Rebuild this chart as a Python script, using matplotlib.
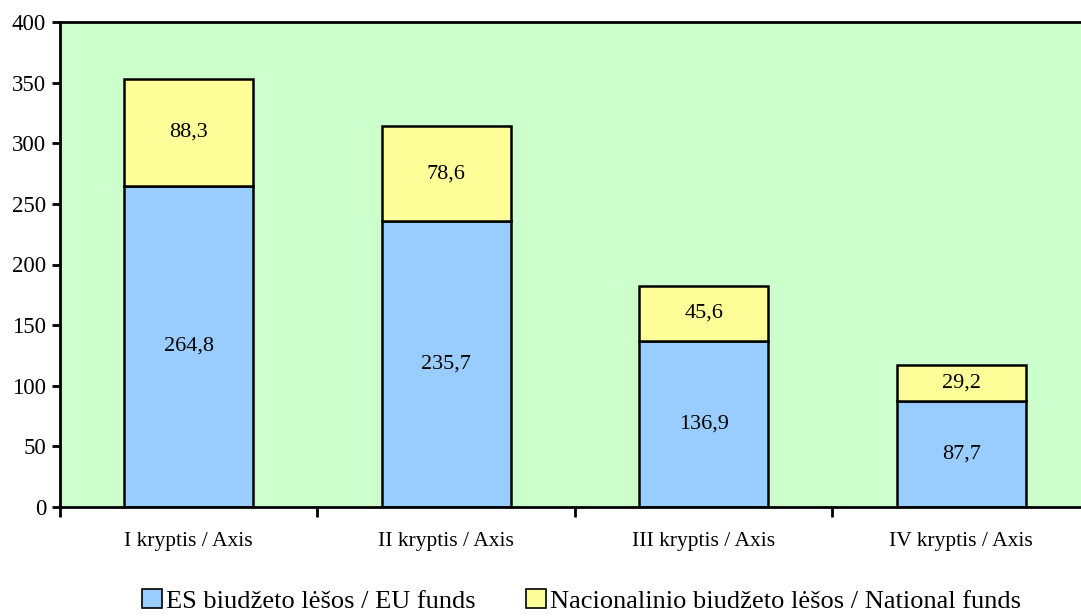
import matplotlib
matplotlib.use('Agg')
import matplotlib.pyplot as plt
from matplotlib.patches import Patch

categories = ['I kryptis / Axis', 'II kryptis / Axis', 'III kryptis / Axis', 'IV kryptis / Axis']
eu_funds = [264.8, 235.7, 136.9, 87.7]
national_funds = [88.3, 78.6, 45.6, 29.2]
yticks = [0, 50, 100, 150, 200, 250, 300, 350, 400]

plt.rcParams['font.family'] = ['Liberation Serif', 'DejaVu Serif']

fig = plt.figure(figsize=(10.81, 6.16), dpi=100)
ax = fig.add_axes([60 / 1081, 1 - 507 / 616, 1030 / 1081, 485 / 616])
ax.set_facecolor('#CCFFCC')

x = list(range(len(categories)))
ax.bar(x, eu_funds, width=0.5, color='#99CCFF', edgecolor='black', linewidth=1.8)
ax.bar(x, national_funds, width=0.5, bottom=eu_funds, color='#FFFF99',
       edgecolor='black', linewidth=1.8)

def fmt(v):
    return f'{v:.1f}'.replace('.', ',')

for i in x:
    ax.text(i, eu_funds[i] / 2, fmt(eu_funds[i]), ha='center', va='center', fontsize=16)
    ax.text(i, eu_funds[i] + national_funds[i] / 2, fmt(national_funds[i]),
            ha='center', va='center', fontsize=16)

ax.set_xlim(-0.5, 3.5)
ax.set_ylim(0, 400)
ax.set_yticks(yticks)
ax.set_xticks(x)
ax.set_xticklabels(categories, fontsize=15.5)
ax.set_xticks([-0.5, 0.5, 1.5, 2.5], minor=True)
ax.tick_params(axis='x', which='major', length=0, pad=18)
ax.tick_params(axis='x', which='minor', length=7, width=2, direction='out')
ax.tick_params(axis='y', length=6, width=2, direction='out', labelsize=16.5, pad=4)

for s in ['left', 'bottom', 'top']:
    ax.spines[s].set_linewidth(2)
ax.spines['right'].set_visible(False)

handles = [Patch(facecolor='#99CCFF', edgecolor='black', linewidth=1.2),
           Patch(facecolor='#FFFF99', edgecolor='black', linewidth=1.2)]
labels = ['ES biudžeto lėšos / EU funds', 'Nacionalinio biudžeto lėšos / National funds']
fig.legend(handles, labels, loc='lower center', bbox_to_anchor=(0.538, -0.033), ncol=2,
           frameon=False, fontsize=19, handlelength=0.75, handleheight=0.75,
           handletextpad=0.15, columnspacing=1.9)

fig.savefig('out.png', dpi=100)
